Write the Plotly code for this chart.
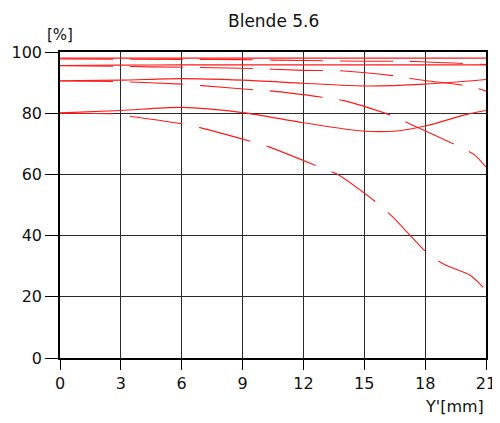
import plotly.graph_objects as go

# Image height Y' [mm]
# Sagittal (solid) curves
s1_x = [0, 3, 6, 9, 12, 15, 18, 21]
s1_y = [98.0, 98.0, 98.0, 98.0, 98.0, 98.0, 98.0, 98.0]
s2_x = [0, 3, 6, 9, 12, 15, 18, 21]
s2_y = [95.6, 95.7, 95.8, 95.8, 95.8, 95.8, 95.8, 95.8]
s3_x = [0, 3, 6, 9, 12, 15, 18, 21]
s3_y = [90.6, 90.8, 91.3, 90.8, 89.8, 88.9, 89.5, 91.0]
s4_x = [0, 3, 6, 9, 12, 14.9, 16.6, 18, 20.1, 21]
s4_y = [80.1, 80.9, 81.9, 80.2, 76.9, 74.2, 74.2, 75.8, 79.7, 80.9]

# Tangential (dashed) curves
t1_x = [0, 6, 9, 12, 15, 17.5, 21]
t1_y = [97.7, 97.6, 97.5, 97.2, 97.0, 96.9, 95.9]
t2_x = [0, 3, 6, 9, 12, 14, 16.5, 17.6, 20.1, 21]
t2_y = [95.5, 95.3, 95.0, 94.7, 94.0, 93.8, 92.2, 91.0, 88.9, 87.3]
t3_x = [0, 3, 6, 7, 9.6, 10.5, 13.2, 14, 16.5, 17.25, 19.7, 20.45, 21]
t3_y = [90.5, 90.3, 89.5, 89.0, 87.6, 87.2, 85.0, 84.1, 78.9, 76.5, 69.0, 66.3, 62.4]
t4_x = [0, 2.6, 3.45, 6.06, 6.95, 9.5, 10.3, 12.8, 13.65, 15.7, 16.4, 18.2, 19.0, 20.2, 21]
t4_y = [80.0, 79.8, 79.0, 76.5, 75.2, 70.6, 69.0, 62.4, 60.1, 50.3, 46.1, 33.7, 30.4, 27.1, 22.2]

x_ticks = [0, 3, 6, 9, 12, 15, 18, 21]
y_ticks = [0, 20, 40, 60, 80, 100]

RED = "#ff1a1a"
FONT = "DejaVu Sans"

fig = go.Figure()
for xs, ys in [(s1_x, s1_y), (s2_x, s2_y), (s3_x, s3_y), (s4_x, s4_y)]:
    fig.add_trace(go.Scatter(x=xs, y=ys, mode="lines",
                             line=dict(color=RED, width=1.1, shape="spline", smoothing=0.8),
                             showlegend=False, hoverinfo="skip"))
for xs, ys in [(t1_x, t1_y), (t2_x, t2_y), (t3_x, t3_y), (t4_x, t4_y)]:
    fig.add_trace(go.Scatter(x=xs, y=ys, mode="lines",
                             line=dict(color=RED, width=1.1, shape="spline", smoothing=0.6,
                                       dash="53px,17px"),
                             showlegend=False, hoverinfo="skip"))

fig.update_layout(
    width=492, height=407,
    margin=dict(l=52, r=14, t=44, b=57),
    paper_bgcolor="white", plot_bgcolor="white",
    font=dict(family=FONT, color="#111111", size=16),
    xaxis=dict(range=[0, 21], tickvals=x_ticks, ticktext=[str(v) for v in x_ticks],
               showgrid=True, gridcolor="#2a2a2a", gridwidth=1.2,
               showline=True, linecolor="#000000", linewidth=1.5, mirror=True,
               ticks="outside", ticklen=10, tickcolor="#000000",
               zeroline=False, tickfont=dict(size=16), automargin=False),
    yaxis=dict(range=[0, 100], tickvals=y_ticks, ticktext=[str(v) for v in y_ticks],
               showgrid=True, gridcolor="#2a2a2a", gridwidth=1.2,
               showline=True, linecolor="#000000", linewidth=1.5, mirror=True,
               ticks="outside", ticklen=13, tickcolor="#000000",
               zeroline=False, tickfont=dict(size=16), automargin=False),
    annotations=[
        dict(text="Blende 5.6", xref="paper", yref="paper", x=0.5, y=1.0997,
             showarrow=False, font=dict(size=17), xanchor="center", yanchor="middle"),
        dict(text="[%]", xref="paper", yref="paper", x=-0.001, y=1.056,
             showarrow=False, font=dict(size=15), xanchor="center", yanchor="middle"),
        dict(text="Y'[mm]", xref="paper", yref="paper", x=0.925, y=-0.158,
             showarrow=False, font=dict(size=16), xanchor="center", yanchor="middle"),
    ],
)

fig.write_html("out.html")
